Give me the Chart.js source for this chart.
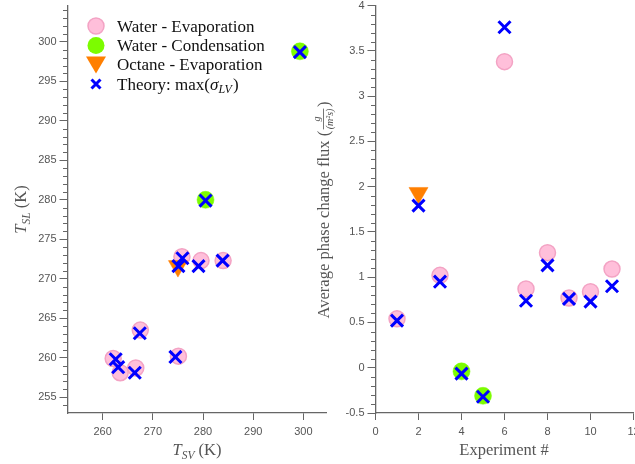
<!DOCTYPE html>
<html>
<head>
<meta charset="utf-8">
<script src="https://cdn.jsdelivr.net/npm/chart.js@4.4.0/dist/chart.umd.min.js"></script>
<style>
body { margin: 0; background: #fff; overflow: hidden; }
#wrap { position: relative; width: 635px; height: 464px; overflow: hidden; }
canvas { position: absolute; top: -6px; }
</style>
</head>
<body>
<div id="wrap">
<canvas id="GraphTemp" width="338" height="470" style="left:0px"></canvas>
<canvas id="GraphFlux" width="340" height="470" style="left:305px"></canvas>
</div>
<script>
// left panel: T_SV vs T_SL
const evapTSV = [262.1, 263.5, 266.6, 267.5, 275.1, 275.8, 279.6, 284.0];
const evapTSL = [259.9, 258.1, 258.7, 263.5, 260.2, 272.8, 272.3, 272.3];
const condTSV = [280.5, 299.3];
const condTSL = [280.0, 298.8];
const octTSV = [275.0];
const octTSL = [271.6];
const theoryTSV = [262.6, 263.1, 266.4, 267.4, 274.5, 275.9, 275.1, 279.1, 283.9, 280.5, 299.3];
const theoryTSL = [259.8, 258.8, 258.1, 263.1, 260.1, 272.6, 271.6, 271.6, 272.3, 279.9, 298.7];

// right panel: experiment # vs flux
const evapExp = [1, 3, 6, 7, 8, 9, 10, 11];
const evapFlux = [0.54, 1.02, 3.38, 0.87, 1.27, 0.77, 0.84, 1.09];
const condExp = [4, 5];
const condFlux = [-0.04, -0.31];
const octExp = [2];
const octFlux = [1.93];
const theoryExp = [1, 2, 3, 4, 5, 6, 7, 8, 9, 10, 11];
const theoryFlux = [0.52, 1.79, 0.95, -0.065, -0.32, 3.76, 0.74, 1.13, 0.76, 0.73, 0.90];

const leftXTicks = [260, 270, 280, 290, 300];
const leftYTicks = [255, 260, 265, 270, 275, 280, 285, 290, 295, 300];
const rightXTicks = [0, 2, 4, 6, 8, 10, 12];
const rightYTicks = [-0.5, 0, 0.5, 1, 1.5, 2, 2.5, 3, 3.5, 4];

const legendLabels = ['Water - Evaporation', 'Water - Condensation', 'Octane - Evaporation'];

const SERIF = '"Liberation Serif", "DejaVu Serif", serif';
const SANS = '"Liberation Sans", Arial, sans-serif';
const AXIS = '#666';
const LABEL = '#555';
const PINK = '#ffbfda', PINK_EDGE = '#f3a3c4';
const GREEN = '#7cfc00';
const ORANGE = '#ff7f00';
const BLUE = '#0000ff';
const SHIFT = 6; // canvases sit 6px above the page top

function zip(xs, ys) {
    return xs.map((x, i) => ({ x: x, y: ys[i] }));
}

function makeDatasets(ex, ey, cx, cy, ox, oy, tx, ty) {
    return [
        { data: zip(ex, ey), pointStyle: 'circle', pointRadius: 8, backgroundColor: PINK, borderColor: PINK_EDGE, borderWidth: 1.5, order: 3 },
        { data: zip(cx, cy), pointStyle: 'circle', pointRadius: 8.5, backgroundColor: GREEN, borderColor: GREEN, borderWidth: 0.5, order: 2 },
        { data: zip(ox, oy), pointStyle: 'triangle', rotation: 180, pointRadius: 11, backgroundColor: ORANGE, borderColor: ORANGE, borderWidth: 0.5, order: 1 },
        { data: zip(tx, ty), pointStyle: 'crossRot', pointRadius: 8.5, backgroundColor: BLUE, borderColor: BLUE, borderWidth: 3, order: 0 }
    ];
}

function axis(min, max, ticks, fixed, isY) {
    return {
        type: 'linear',
        min: min,
        max: max,
        afterBuildTicks: s => { s.ticks = ticks.map(v => ({ value: v })); },
        afterFit: s => {
            if (isY) s.width = fixed; else s.height = fixed;
            s.paddingTop = 0; s.paddingBottom = 0; s.paddingLeft = 0; s.paddingRight = 0;
        },
        grid: { drawOnChartArea: false, drawTicks: true, tickLength: isY ? 8 : 7, color: AXIS, lineWidth: 1 },
        border: { display: true, color: AXIS, width: 1.3 },
        ticks: {
            color: LABEL,
            font: { family: SANS, size: 11 },
            padding: isY ? 3 : 5,
            maxRotation: 0,
            autoSkip: false,
            callback: v => String(v)
        }
    };
}

// rich text: runs of text with own font and vertical shift, plus a small fraction
function drawRich(ctx, parts, cx, cy, angle) {
    ctx.save();
    ctx.translate(cx, cy);
    ctx.rotate(angle);
    ctx.textBaseline = 'alphabetic';
    const widths = parts.map(p => {
        ctx.font = p.font;
        if (p.frac) return Math.max(ctx.measureText(p.frac[0]).width, ctx.measureText(p.frac[1]).width) + 3;
        return ctx.measureText(p.t).width;
    });
    let x = -widths.reduce((a, b) => a + b, 0) / 2;
    parts.forEach((p, i) => {
        ctx.font = p.font;
        if (p.frac) {
            const mid = x + widths[i] / 2;
            ctx.textAlign = 'center';
            ctx.fillText(p.frac[0], mid, -9);
            ctx.fillText(p.frac[1], mid, 4);
            ctx.fillRect(x + 1.5, -5.5, widths[i] - 3, 0.8);
        } else {
            ctx.textAlign = 'left';
            ctx.fillText(p.t, x, p.dy || 0);
        }
        x += widths[i];
    });
    ctx.restore();
}

const minorTicks = {
    id: 'minorTicks',
    afterDraw(chart, args, opts) {
        const s = chart.scales.y, ctx = chart.ctx, x0 = chart.chartArea.left;
        ctx.save();
        ctx.strokeStyle = AXIS;
        ctx.lineWidth = 1;
        for (let k = Math.ceil(s.min / opts.step + 1e-6); k * opts.step <= s.max; k++) {
            const v = k * opts.step;
            const r = v / opts.major;
            if (Math.abs(r - Math.round(r)) < 1e-6) continue;
            const y = Math.round(s.getPixelForValue(v)) + 0.5;
            ctx.beginPath();
            ctx.moveTo(x0, y);
            ctx.lineTo(x0 - 4.5, y);
            ctx.stroke();
        }
        ctx.restore();
    }
};

const axisTitles = {
    id: 'axisTitles',
    afterDraw(chart, args, opts) {
        const ctx = chart.ctx;
        ctx.save();
        ctx.fillStyle = LABEL;
        opts.items.forEach(it => drawRich(ctx, it.parts, it.x, it.y + SHIFT, it.angle || 0));
        ctx.restore();
    }
};

const legendBox = {
    id: 'legendBox',
    afterDraw(chart) {
        const ctx = chart.ctx;
        const mx = 96, tx = 117, rows = [26, 45.5, 64.5, 84].map(r => r + SHIFT);
        ctx.save();
        // markers
        ctx.fillStyle = PINK; ctx.strokeStyle = PINK_EDGE; ctx.lineWidth = 1.5;
        ctx.beginPath(); ctx.arc(mx, rows[0], 8, 0, Math.PI * 2); ctx.fill(); ctx.stroke();
        ctx.fillStyle = GREEN;
        ctx.beginPath(); ctx.arc(mx, rows[1], 8.5, 0, Math.PI * 2); ctx.fill();
        ctx.fillStyle = ORANGE;
        ctx.beginPath();
        ctx.moveTo(mx - 10, rows[2] - 8); ctx.lineTo(mx + 10, rows[2] - 8); ctx.lineTo(mx, rows[2] + 9);
        ctx.closePath(); ctx.fill();
        ctx.strokeStyle = BLUE; ctx.lineWidth = 3;
        ctx.beginPath();
        ctx.moveTo(mx - 4.5, rows[3] - 4.5); ctx.lineTo(mx + 4.5, rows[3] + 4.5);
        ctx.moveTo(mx + 4.5, rows[3] - 4.5); ctx.lineTo(mx - 4.5, rows[3] + 4.5);
        ctx.stroke();
        // text
        ctx.fillStyle = '#111';
        ctx.textAlign = 'left';
        ctx.textBaseline = 'alphabetic';
        ctx.font = '17px ' + SERIF;
        legendLabels.forEach((t, i) => ctx.fillText(t, tx, rows[i] + 5.5));
        let x = tx;
        const runs = [
            { t: 'Theory: max(', f: '17px ' + SERIF, dy: 0 },
            { t: 'σ', f: 'italic 17px ' + SERIF, dy: 0 },
            { t: 'LV', f: 'italic 12px ' + SERIF, dy: 3.5 },
            { t: ')', f: '17px ' + SERIF, dy: 0 }
        ];
        runs.forEach(r => {
            ctx.font = r.f;
            ctx.fillText(r.t, x, rows[3] + 5.5 + r.dy);
            x += ctx.measureText(r.t).width + (r.t === 'LV' ? 1 : 0);
        });
        ctx.restore();
    }
};

const configTemp = {
    type: 'scatter',
    data: { datasets: makeDatasets(evapTSV, evapTSL, condTSV, condTSL, octTSV, octTSL, theoryTSV, theoryTSL) },
    options: {
        responsive: false,
        animation: false,
        layout: { padding: { left: 0, right: 4, top: 0, bottom: 0 } },
        scales: {
            x: axis(253, 304.6, leftXTicks, 51, false),
            y: axis(253, 304.6, leftYTicks, 67.5, true)
        },
        plugins: {
            legend: { display: false },
            tooltip: { enabled: false },
            minorTicks: { step: 1, major: 5 },
            axisTitles: {
                items: [
                    { x: 197, y: 455, parts: [
                        { t: 'T', font: 'italic 16.5px ' + SERIF },
                        { t: 'SV', font: 'italic 11.5px ' + SERIF, dy: 3.5 },
                        { t: ' (K)', font: '16.5px ' + SERIF }
                    ] },
                    { x: 26, y: 209.5, angle: -Math.PI / 2, parts: [
                        { t: 'T', font: 'italic 16.5px ' + SERIF },
                        { t: 'SL', font: 'italic 11.5px ' + SERIF, dy: 3.5 },
                        { t: ' (K)', font: '16.5px ' + SERIF }
                    ] }
                ]
            }
        }
    },
    plugins: [minorTicks, axisTitles, legendBox]
};

const configFlux = {
    type: 'scatter',
    data: { datasets: makeDatasets(evapExp, evapFlux, condExp, condFlux, octExp, octFlux, theoryExp, theoryFlux) },
    options: {
        responsive: false,
        animation: false,
        layout: { padding: { left: 0, right: 2, top: 0, bottom: 0 } },
        scales: {
            x: axis(0, 12, rightXTicks, 51, false),
            y: axis(-0.5, 4, rightYTicks, 70.5, true)
        },
        plugins: {
            legend: { display: false },
            tooltip: { enabled: false },
            minorTicks: { step: 0.1, major: 0.5 },
            axisTitles: {
                items: [
                    { x: 199, y: 455, parts: [
                        { t: 'Experiment #', font: '16.5px ' + SERIF }
                    ] },
                    { x: 23.5, y: 210, angle: -Math.PI / 2, parts: [
                        { t: 'Average phase change flux (', font: '16.5px ' + SERIF },
                        { frac: ['g', '(m²s)'], font: 'italic 10px ' + SERIF },
                        { t: ')', font: '16.5px ' + SERIF }
                    ] }
                ]
            }
        }
    },
    plugins: [minorTicks, axisTitles]
};

const GraphTemp = new Chart(document.getElementById('GraphTemp'), configTemp);
const GraphFlux = new Chart(document.getElementById('GraphFlux'), configFlux);
</script>
</body>
</html>
